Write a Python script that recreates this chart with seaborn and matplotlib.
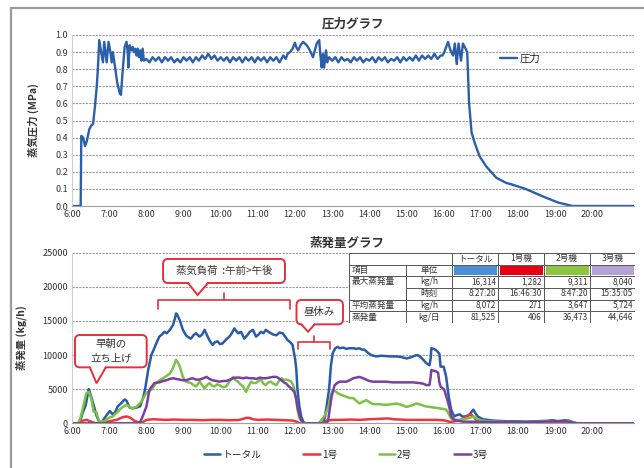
import numpy as np
import pandas as pd
import matplotlib
matplotlib.use('Agg')
import matplotlib.pyplot as plt
import seaborn as sns
from matplotlib.patches import FancyBboxPatch, Polygon, Rectangle
from matplotlib.lines import Line2D

# ── Data ──────────────────────────────────────────────────
# pressure (MPa): start-up, morning band, noon, afternoon band, shut-down
p_up_t = ["6:00", "6:14", "6:15", "6:18", "6:21", "6:24", "6:28", "6:31", "6:34", "6:37",
          "6:40", "6:42", "6:44", "6:47", "6:50", "6:52", "6:54", "6:56", "6:59", "7:02",
          "7:04", "7:06", "7:10", "7:13", "7:17", "7:19", "7:22", "7:25", "7:28", "7:30",
          "7:31", "7:33", "7:36", "7:38", "7:40", "7:42", "7:44", "7:46", "7:48", "7:50",
          "7:52", "7:54", "7:56"]
p_up_v = [0.0, 0.0, 0.41, 0.40, 0.35, 0.38, 0.45, 0.47, 0.48, 0.58,
          0.70, 0.82, 0.97, 0.90, 0.84, 0.96, 0.90, 0.84, 0.96, 0.90,
          0.84, 0.90, 0.80, 0.72, 0.66, 0.65, 0.80, 0.93, 0.96, 0.90,
          0.81, 0.94, 0.91, 0.93, 0.90, 0.92, 0.88, 0.92, 0.87, 0.91,
          0.85, 0.92, 0.85]
p_am_v = [0.86, 0.84, 0.87, 0.85, 0.87, 0.84, 0.87, 0.85, 0.87, 0.84,
          0.86, 0.84, 0.87, 0.85, 0.87, 0.84, 0.87, 0.85, 0.88, 0.86,
          0.89, 0.86, 0.88, 0.85, 0.87, 0.85, 0.87, 0.84, 0.87, 0.85,
          0.87, 0.84, 0.87, 0.85, 0.87, 0.84, 0.87, 0.85, 0.87, 0.84,
          0.87, 0.85, 0.87, 0.84]          # every 5 min, 8:00-11:35
p_noon_t = ["11:38", "11:41", "11:45", "11:48", "11:52", "11:56", "12:00", "12:02", "12:05",
            "12:09", "12:13", "12:16", "12:19", "12:24", "12:29", "12:32", "12:35", "12:39",
            "12:41", "12:43", "12:45", "12:47", "12:50", "12:52"]
p_noon_v = [0.86, 0.88, 0.86, 0.89, 0.90, 0.92, 0.955, 0.93, 0.91,
            0.94, 0.96, 0.95, 0.94, 0.91, 0.87, 0.91, 0.95, 0.97,
            0.88, 0.81, 0.89, 0.81, 0.91, 0.84]
p_pm_v = [0.87, 0.85, 0.87, 0.84, 0.87, 0.85, 0.86, 0.84, 0.87, 0.85,
          0.87, 0.84, 0.86, 0.85, 0.87, 0.84, 0.87, 0.85, 0.87, 0.84,
          0.86, 0.85, 0.87, 0.84, 0.87, 0.85, 0.87, 0.85, 0.88, 0.85,
          0.88, 0.86, 0.88, 0.86, 0.89, 0.86, 0.88]    # every 5 min, 12:55-15:55
p_down_t = ["15:58", "16:01", "16:04", "16:07", "16:11", "16:15", "16:18", "16:21", "16:24",
            "16:28", "16:31", "16:34", "16:38", "16:41", "16:45", "16:50", "16:58", "17:09",
            "17:25", "17:41", "17:51", "18:12", "18:44", "19:05", "19:28", "21:08"]
p_down_v = [0.88, 0.90, 0.93, 0.96, 0.91, 0.88, 0.95, 0.83, 0.95,
            0.85, 0.95, 0.93, 0.90, 0.60, 0.43, 0.37, 0.29, 0.23,
            0.165, 0.135, 0.125, 0.10, 0.05, 0.02, 0.0, 0.0]

# steam (kg/h)
total_t = ["6:00", "6:12", "6:17", "6:22", "6:27", "6:31", "6:35", "6:40", "6:44", "6:48",
           "6:52", "6:57", "7:01", "7:06", "7:10", "7:14", "7:20", "7:25", "7:28", "7:33",
           "7:38", "7:44", "7:50", "7:55", "7:58", "8:03", "8:08", "8:12", "8:16", "8:21",
           "8:25", "8:29", "8:33", "8:38", "8:43", "8:46", "8:48", "8:50", "8:54", "8:59",
           "9:04", "9:08", "9:12", "9:16", "9:20", "9:26", "9:30", "9:34", "9:39", "9:43",
           "9:47", "9:51", "9:55", "9:59", "10:03", "10:08", "10:14", "10:18", "10:22", "10:28",
           "10:33", "10:38", "10:43", "10:47", "10:52", "10:57", "11:01", "11:05", "11:09", "11:13",
           "11:17", "11:21", "11:25", "11:30", "11:35", "11:40", "11:44", "11:48", "11:52", "11:56",
           "12:00", "12:02", "12:04", "12:07", "12:10", "12:14", "12:18", "12:45", "12:48", "12:51",
           "12:55", "12:58", "13:01", "13:05", "13:09", "13:12", "13:18", "13:23", "13:28", "13:34",
           "13:39", "13:44", "13:48", "13:52", "13:58", "14:03", "14:11", "14:19", "14:27", "14:35",
           "14:44", "14:52", "15:00", "15:08", "15:16", "15:20", "15:24", "15:28", "15:32", "15:37",
           "15:39", "15:40", "15:44", "15:48", "15:53", "15:55", "16:00", "16:04", "16:08", "16:12",
           "16:17", "16:21", "16:26", "16:30", "16:34", "16:38", "16:42", "16:46", "16:48", "16:51",
           "16:55", "17:03", "17:19", "17:41", "18:00", "18:13", "18:30", "18:45", "18:56", "19:05",
           "19:15", "19:22", "19:30", "19:36", "21:08"]
total_v = [0, 0, 1500, 2600, 5000, 3900, 2600, 1000, 200, 100,
           700, 1300, 1800, 1300, 1700, 2500, 3000, 3500, 3300, 2300,
           2200, 2300, 2500, 3800, 5000, 7800, 10000, 10800, 11700, 12700,
           13000, 13400, 13200, 13700, 14400, 15300, 16100, 15900, 15100, 13700,
           12900, 12600, 12400, 12900, 13200, 12700, 13000, 13700, 12700, 12000,
           11500, 11900, 12000, 11600, 11700, 12200, 12700, 13200, 13900, 13200,
           13400, 12400, 12900, 13400, 13700, 12700, 13000, 13400, 13200, 13700,
           13400, 13200, 13000, 12900, 13300, 13200, 12700, 12200, 11900, 11500,
           9500, 8000, 4900, 2500, 1000, 100, 0, 0, 800, 2500,
           5000, 8500, 10300, 11000, 11200, 11000, 11100, 10900, 11000, 11000,
           10900, 11000, 10800, 10800, 10300, 10000, 9800, 9900, 9850, 9800,
           9800, 9700, 9500, 9700, 10000, 9900, 9600, 9200, 8800, 8500,
           9500, 11000, 10900, 10700, 10200, 8300, 8300, 6800, 4000, 2000,
           1000, 1200, 1300, 1000, 1000, 1100, 1300, 1800, 2000, 1500,
           1000, 600, 400, 300, 300, 250, 300, 350, 450, 300,
           450, 400, 100, 0, 0]

no1_t = ["6:00", "6:10", "6:14", "6:18", "6:24", "6:29", "6:35", "6:40", "6:48", "6:55",
         "7:06", "7:12", "7:17", "7:22", "7:28", "7:32", "7:36", "7:40", "7:44", "7:50",
         "7:55", "8:00", "8:06", "8:11", "8:20", "8:32", "8:45", "9:00", "9:15", "9:30",
         "9:45", "10:00", "10:15", "10:30", "10:38", "10:41", "10:46", "10:52", "11:00", "11:15",
         "11:30", "11:45", "11:56", "12:02", "12:06", "12:10", "12:45", "12:51", "13:01", "13:15",
         "13:30", "13:45", "14:00", "14:15", "14:27", "14:32", "14:38", "14:50", "15:00", "15:15",
         "15:30", "15:45", "16:00", "16:04", "16:10", "16:15", "16:25", "16:32", "16:37", "16:41",
         "16:45", "16:49", "16:53", "17:03", "17:30", "18:00", "18:30", "19:00", "19:20", "19:30",
         "19:35", "21:08"]
no1_v = [0, 0, 300, 400, 500, 300, 100, 0, 100, 200,
         400, 500, 700, 900, 1000, 900, 700, 400, 250, 100,
         200, 500, 550, 600, 550, 500, 550, 500, 500, 450,
         500, 500, 450, 500, 700, 800, 800, 600, 500, 550,
         500, 450, 400, 250, 50, 0, 0, 400, 500, 500,
         550, 500, 600, 650, 700, 700, 600, 550, 500, 500,
         500, 500, 450, 350, 200, 250, 400, 700, 1000, 1200,
         1250, 900, 400, 250, 150, 100, 100, 150, 150, 50,
         0, 0]

no2_t = ["6:00", "6:10", "6:14", "6:18", "6:23", "6:27", "6:31", "6:35", "6:39", "6:42",
         "6:45", "6:50", "6:54", "6:58", "7:02", "7:06", "7:10", "7:14", "7:18", "7:22",
         "7:28", "7:32", "7:36", "7:40", "7:44", "7:48", "7:52", "7:56", "8:00", "8:04",
         "8:08", "8:12", "8:16", "8:21", "8:27", "8:32", "8:38", "8:42", "8:46", "8:48",
         "8:51", "8:54", "8:57", "8:59", "9:04", "9:08", "9:12", "9:16", "9:20", "9:26",
         "9:30", "9:34", "9:38", "9:42", "9:46", "9:50", "9:54", "9:58", "10:03", "10:09",
         "10:14", "10:20", "10:24", "10:28", "10:32", "10:36", "10:41", "10:45", "10:49", "10:53",
         "10:57", "11:01", "11:05", "11:09", "11:13", "11:17", "11:21", "11:25", "11:30", "11:34",
         "11:38", "11:42", "11:46", "11:50", "11:54", "11:57", "11:59", "12:02", "12:04", "12:07",
         "12:10", "12:14", "12:38", "12:42", "12:47", "12:51", "12:55", "12:58", "13:01", "13:05",
         "13:09", "13:14", "13:19", "13:23", "13:28", "13:34", "13:39", "13:44", "13:50", "13:55",
         "14:00", "14:06", "14:15", "14:27", "14:36", "14:44", "14:52", "15:00", "15:08", "15:16",
         "15:20", "15:24", "15:30", "15:37", "15:45", "15:53", "16:00", "16:04", "16:08", "16:12",
         "16:19", "16:26", "16:32", "16:37", "16:42", "16:48", "16:53", "16:58", "17:10", "17:40",
         "18:20", "18:50", "19:10", "19:22", "19:30", "19:35", "21:08"]
no2_v = [0, 0, 900, 2400, 4400, 4600, 3700, 1700, 1700, 800,
         250, 250, 400, 700, 900, 1000, 1400, 1700, 2100, 2400,
         2700, 2500, 2200, 2300, 2400, 2800, 3200, 3800, 4400, 4700,
         4900, 5400, 5900, 6300, 6600, 6900, 7300, 7900, 8800, 9300,
         8900, 8300, 7400, 6800, 6100, 6000, 5900, 5600, 5400, 6100,
         5600, 5100, 5600, 5900, 5500, 5400, 5700, 5600, 5300, 5400,
         6100, 6800, 6300, 6100, 5700, 5400, 4600, 5400, 6100, 5900,
         5900, 6200, 6400, 5800, 5600, 6000, 6100, 5800, 5600, 6200,
         6600, 6400, 6400, 6300, 6100, 5600, 4900, 3500, 2000, 800,
         250, 0, 0, 400, 1000, 1700, 2800, 4200, 4900, 4700,
         4400, 4200, 4000, 3900, 3700, 3700, 3300, 2900, 3200, 3400,
         3100, 2800, 2800, 2700, 2800, 2900, 2700, 2400, 2600, 2900,
         2800, 2700, 2500, 2400, 2300, 2200, 2100, 2000, 1400, 700,
         500, 500, 600, 700, 800, 1000, 700, 500, 300, 200,
         200, 300, 350, 300, 100, 0, 0]

no3_t = ["6:00", "7:49", "7:54", "8:00", "8:05", "8:13", "8:21", "8:27", "8:32", "8:38",
         "8:43", "8:48", "8:54", "9:00", "9:04", "9:10", "9:15", "9:20", "9:26", "9:32",
         "9:37", "9:42", "9:47", "9:53", "9:58", "10:04", "10:09", "10:15", "10:20", "10:25",
         "10:30", "10:36", "10:41", "10:47", "10:52", "10:58", "11:03", "11:08", "11:13", "11:19",
         "11:24", "11:30", "11:34", "11:38", "11:42", "11:46", "11:50", "11:54", "11:59", "12:02",
         "12:04", "12:07", "12:10", "12:14", "12:50", "12:53", "12:56", "12:59", "13:04", "13:08",
         "13:12", "13:18", "13:23", "13:28", "13:34", "13:39", "13:44", "13:50", "13:55", "14:00",
         "14:06", "14:15", "14:27", "14:38", "14:49", "15:00", "15:10", "15:21", "15:27", "15:32",
         "15:37", "15:39", "15:40", "15:44", "15:48", "15:51", "15:53", "15:55", "16:01", "16:06",
         "16:10", "16:12", "16:17", "16:30", "17:00", "18:00", "18:30", "19:00", "19:15", "19:25",
         "19:32", "21:08"]
no3_v = [0, 0, 1000, 2400, 4900, 5900, 6000, 6200, 6300, 6500,
         6600, 6500, 6400, 6300, 6300, 6500, 6600, 6400, 6400, 6600,
         6800, 6500, 6300, 6200, 6100, 6200, 6200, 6400, 6600, 6700,
         6700, 6600, 6700, 6600, 6600, 6500, 6700, 6600, 6600, 6700,
         6800, 6800, 6600, 6300, 6000, 5800, 5400, 5100, 4600, 3500,
         2400, 1200, 500, 0, 0, 250, 2000, 3900, 5600, 5900,
         6100, 6100, 6100, 6300, 6600, 6700, 6800, 6600, 6400, 6200,
         6100, 6100, 6100, 6000, 6000, 6000, 6000, 5900, 5800, 5600,
         5600, 6800, 7800, 7700, 7600, 7400, 6000, 5400, 4900, 3400,
         2000, 1000, 500, 250, 200, 150, 200, 300, 300, 200,
         0, 0]

series_names = ['トータル', '1号', '2号', '3号']
series_colors = ['#2a5ba8', '#e8383d', '#7cc144', '#7a3fa2']

# summary table
table_head = ['トータル', '1号機', '2号機', '3号機']
table_swatch = ['#4a8fd8', '#e60012', '#8cc63f', '#b4a2d6']
table_items = ['最大蒸発量', '', '平均蒸発量', '蒸発量']
table_units = ['kg/h', '時刻', 'kg/h', 'kg/日']
table_vals = [['16,314', '1,282', '9,311', '8,040'],
              ['8:27:20', '16:46:30', '8:47:20', '15:35:05'],
              ['8,072', '271', '3,647', '5,724'],
              ['81,525', '406', '36,473', '44,646']]

hour_ticks = list(range(6, 21))
hour_labels = [f'{h}:00' for h in hour_ticks]


def to_hour(s):
    h, m = s.split(':')
    return int(h) + int(m) / 60


# ── Build frames ──────────────────────────────────────────
p_am_t = np.arange(8 * 60, 11 * 60 + 36, 5) / 60
p_pm_t = np.arange(12 * 60 + 55, 15 * 60 + 56, 5) / 60
pressure = pd.DataFrame({
    'hour': [to_hour(t) for t in p_up_t] + list(p_am_t) + [to_hour(t) for t in p_noon_t]
            + list(p_pm_t) + [to_hour(t) for t in p_down_t],
    'MPa': p_up_v + p_am_v + p_noon_v + p_pm_v + p_down_v,
})

steam = pd.concat([
    pd.DataFrame({'hour': [to_hour(t) for t in tt], 'kgh': vv, 'series': name})
    for name, tt, vv in zip(series_names,
                            [total_t, no1_t, no2_t, no3_t],
                            [total_v, no1_v, no2_v, no3_v])
], ignore_index=True)

# ── Style ─────────────────────────────────────────────────
sns.set_style('white')
plt.rcParams['font.family'] = ['Noto Sans CJK JP', 'DejaVu Sans']
TXT = '#333333'
RED = '#e2303c'

fig = plt.figure(figsize=(6.44, 4.68), dpi=100)
W, H = 644, 468
ax1 = fig.add_axes([72 / W, 1 - 206 / H, 562 / W, 171 / H])
ax2 = fig.add_axes([72 / W, 1 - 423.3 / H, 562 / W, 170.6 / H])

# outer frame
fig.add_artist(Rectangle((10.5 / W, -0.1), 1.2, 1 - 8 / H + 0.1, transform=fig.transFigure,
                         fill=False, ec='#9a9a9a', lw=1.6))

for ax in (ax1, ax2):
    ax.set_xlim(6, 21.12)
    ax.set_xticks(hour_ticks)
    ax.set_xticklabels(hour_labels)
    ax.tick_params(length=0, labelsize=6.5, labelcolor=TXT, pad=3)
    ax.grid(axis='y', color='#9a9a9a', linestyle=(0, (2, 1)), linewidth=0.8)
    ax.grid(axis='x', visible=False)
    for s in ('top', 'right'):
        ax.spines[s].set_visible(False)
    ax.spines['left'].set_color('#cfcfcf')
    ax.spines['left'].set_linewidth(0.8)
    ax.spines['bottom'].set_color('#a0a0a0')
    ax.spines['bottom'].set_linewidth(0.8)
    ax.set_axisbelow(True)

# ── Pressure chart ────────────────────────────────────────
sns.lineplot(data=pressure, x='hour', y='MPa', ax=ax1, color='#2c5faa',
             linewidth=1.7, estimator=None, sort=False, label='圧力')
ax1.set_ylim(0, 1.0)
ax1.set_yticks(np.arange(0, 1.01, 0.1))
ax1.set_yticklabels([f'{v:.1f}' for v in np.arange(0, 1.01, 0.1)])
ax1.set_xlabel('')
ax1.set_ylabel('蒸気圧力 (MPa)', fontsize=7.5, fontweight='bold', color=TXT)
ax1.yaxis.set_label_coords(-0.058, 0.5)
ax1.set_title('圧力グラフ', fontsize=9, fontweight='bold', color=TXT, pad=5)
ax1.legend(loc='center left', bbox_to_anchor=(0.753, 0.86), frameon=False,
           fontsize=7.5, handlelength=1.6, handletextpad=0.2, borderpad=0)

# ── Steam chart ───────────────────────────────────────────
sns.lineplot(data=steam, x='hour', y='kgh', hue='series', hue_order=series_names,
             palette=series_colors, ax=ax2, linewidth=1.8, estimator=None,
             legend=False)
ax2.set_ylim(0, 25000)
ax2.set_yticks(range(0, 25001, 5000))
ax2.set_xlabel('')
ax2.set_ylabel('蒸発量 (kg/h)', fontsize=7.5, fontweight='bold', color=TXT)
ax2.yaxis.set_label_coords(-0.08, 0.5)
ax2.text(0.49, 1.057, '蒸発量グラフ', transform=ax2.transAxes, ha='center', va='center',
         fontsize=9, fontweight='bold', color=TXT)

handles = [Line2D([], [], color=c, lw=1.8) for c in series_colors]
fig.legend(handles, series_names, loc='center', bbox_to_anchor=(0.537, 0.028), ncol=4,
           frameon=False, fontsize=7, handlelength=1.7, handletextpad=0.2,
           columnspacing=4.3)

# ── Callouts ──────────────────────────────────────────────
px0 = ax2.transData.transform((0, 0))
px1 = ax2.transData.transform((1, 1000))
px_x = px1[0] - px0[0]
px_y = (px1[1] - px0[1]) / 1000


def callout(ax, x0, x1, y0, y1, bx0, bx1, tip, text):
    r = 5
    ax.add_patch(FancyBboxPatch((x0, y0), x1 - x0, y1 - y0,
                                boxstyle=f'round,pad=0,rounding_size={r / px_x}',
                                mutation_aspect=px_x / px_y, fc='white', ec=RED,
                                lw=1.4, zorder=5))
    ax.add_patch(Polygon([(bx0, y0 + 2 / px_y), tip, (bx1, y0 + 2 / px_y)],
                         closed=True, fc='white', ec='none', zorder=6))
    ax.plot([bx0, tip[0], bx1], [y0, tip[1], y0], color=RED, lw=1.4, zorder=7,
            solid_joinstyle='miter')
    ax.text((x0 + x1) / 2, (y0 + y1) / 2, text, ha='center', va='center',
            fontsize=7.5, color=TXT, zorder=8, linespacing=1.5)


def bracket(ax, x0, x1, y_bar, y_end, y_tick):
    ax.plot([x0, x0, x1, x1], [y_end, y_bar, y_bar, y_end], color=RED, lw=1.2, zorder=5)
    xm = (x0 + x1) / 2
    ax.plot([xm, xm], [y_bar, y_tick], color=RED, lw=1.2, zorder=5)


callout(ax2, 8.45, 11.73, 20560, 24080, 9.12, 9.66, (9.38, 18800), '蒸気負荷  :午前>午後')
bracket(ax2, 8.32, 11.86, 18070, 16700, 19050)
callout(ax2, 12.04, 13.29, 14500, 18070, 12.17, 12.53, (12.35, 13420), '昼休み')
bracket(ax2, 12.08, 12.94, 11960, 10840, 12790)
callout(ax2, 6.08, 8.01, 8200, 12940, 6.48, 6.91, (6.66, 5860), '早朝の\n立ち上げ')

# ── Summary table ─────────────────────────────────────────
tab = fig.add_axes([349 / W, 1 - 323 / H, 286 / W, 70 / H])
tab.set_xlim(0, 286)
tab.set_ylim(70, 0)
tab.axis('off')
cx = [0, 57, 103, 149, 195, 241, 286]
ry = [0, 11.5, 23, 34.5, 46.5, 58, 70]
lc = '#555555'
tab.add_patch(Rectangle((0, 0), 286, 70, fc='white', ec='none', zorder=0))
for i, y in enumerate(ry):
    xs = cx[1] if i == 3 else 0
    tab.plot([xs, 286], [y, y], color=lc, lw=0.7)
for j, x in enumerate(cx):
    ys = ry[1] if j == 1 else 0
    tab.plot([x, x], [ys, 70], color=lc, lw=0.7)

fs = 6.2
for k in range(4):
    xc = (cx[k + 2] + cx[k + 3]) / 2
    tab.text(xc, (ry[0] + ry[1]) / 2, table_head[k], ha='center', va='center',
             fontsize=fs, color=TXT)
    tab.add_patch(Rectangle((cx[k + 2] + 1.5, ry[1] + 1.5), cx[k + 3] - cx[k + 2] - 3,
                            ry[2] - ry[1] - 3, fc=table_swatch[k], ec='none'))
tab.text(cx[0] + 3, (ry[1] + ry[2]) / 2, '項目', ha='left', va='center', fontsize=fs, color=TXT)
tab.text((cx[1] + cx[2]) / 2, (ry[1] + ry[2]) / 2, '単位', ha='center', va='center',
         fontsize=fs, color=TXT)
for r in range(4):
    yc = (ry[r + 2] + ry[r + 3]) / 2
    tab.text(cx[0] + 3, yc, table_items[r], ha='left', va='center', fontsize=fs, color=TXT)
    tab.text((cx[1] + cx[2]) / 2, yc, table_units[r], ha='center', va='center',
             fontsize=fs, color=TXT)
    for k in range(4):
        tab.text(cx[k + 3] - 2, yc, table_vals[r][k], ha='right', va='center',
                 fontsize=fs - 0.3, color=TXT)

fig.savefig('out.png', dpi=100)
